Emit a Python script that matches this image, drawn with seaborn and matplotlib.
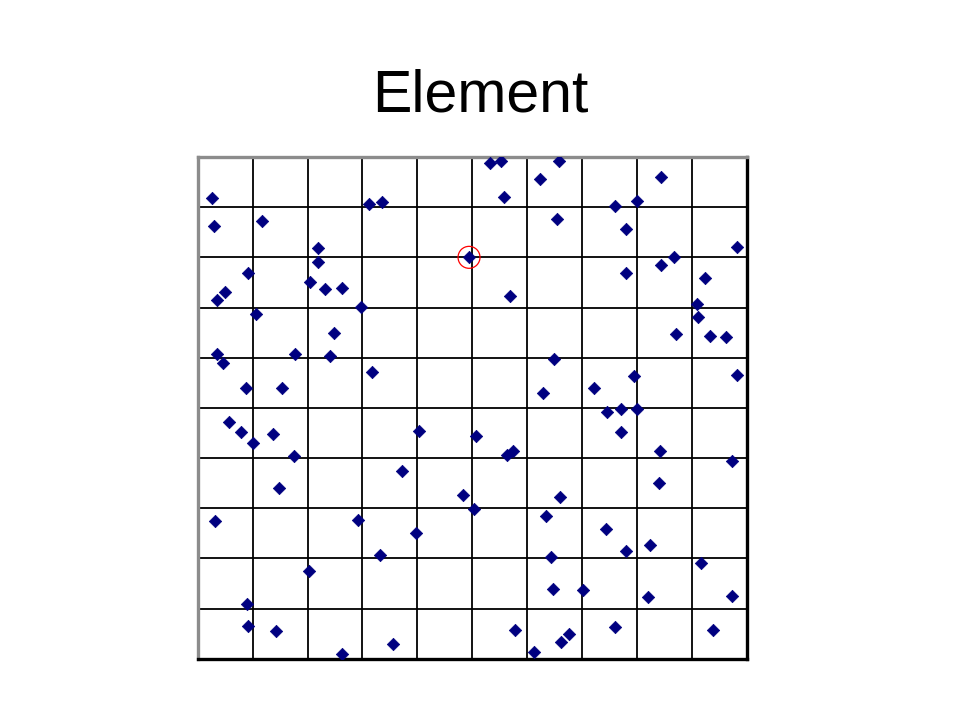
import numpy as np
import pandas as pd
import matplotlib
matplotlib.use("Agg")
import matplotlib.pyplot as plt
import seaborn as sns

# point positions (axis runs 0..10 both ways)
x_vals = [0.26, 0.29, 1.17, 3.11, 3.35, 5.32, 5.52, 5.57, 6.23, 6.58,
          8.43, 6.54, 7.60, 8.00, 7.80, 9.82, 2.19, 2.19, 0.91, 0.49,
          0.35, 2.04, 2.31, 2.62, 4.94, 5.68, 8.43, 8.67, 7.80, 9.23,
          9.09, 9.11, 8.71, 9.33, 9.62, 1.06, 2.97, 2.48, 0.35, 0.46,
          1.77, 2.40, 3.17, 6.48, 0.87, 1.53, 6.28, 7.21, 7.94, 9.82,
          7.45, 7.70, 8.00, 7.70, 0.56, 0.78, 1.00, 1.37, 1.75, 4.03,
          5.06, 5.63, 5.74, 8.42, 9.73, 3.72, 1.48, 4.83, 5.03, 6.59,
          8.40, 0.31, 2.91, 3.97, 6.34, 7.43, 3.32, 6.43, 7.80, 8.23,
          9.16, 2.02, 6.47, 7.01, 8.20, 9.73, 0.89, 0.91, 1.42, 2.62,
          3.55, 5.77, 6.12, 6.61, 6.76, 7.60, 9.38]
y_vals = [9.18, 8.62, 8.72, 9.06, 9.11, 9.88, 9.92, 9.20, 9.56, 9.92,
          9.60, 8.76, 9.02, 9.12, 8.56, 8.20, 8.18, 7.90, 7.68, 7.31,
          7.15, 7.50, 7.37, 7.39, 8.00, 7.23, 7.84, 8.00, 7.68, 7.58,
          7.07, 6.81, 6.47, 6.43, 6.41, 6.87, 7.01, 6.49, 6.07, 5.89,
          6.07, 6.03, 5.71, 5.97, 5.39, 5.39, 5.29, 5.39, 5.63, 5.65,
          4.91, 4.97, 4.97, 4.51, 4.71, 4.51, 4.31, 4.47, 4.05, 4.53,
          4.43, 4.07, 4.15, 4.15, 3.95, 3.75, 3.41, 3.27, 2.99, 3.23,
          3.51, 2.75, 2.77, 2.51, 2.85, 2.59, 2.06, 2.02, 2.14, 2.26,
          1.90, 1.74, 1.40, 1.38, 1.24, 1.26, 1.10, 0.66, 0.56, 0.10,
          0.30, 0.58, 0.14, 0.34, 0.50, 0.64, 0.58]
highlight_x = [4.94]
highlight_y = [8.00]

df = pd.DataFrame({"x": x_vals, "y": y_vals})

sns.set_style("white")
plt.rcParams["font.family"] = ["Liberation Sans", "DejaVu Sans"]

fig = plt.figure(figsize=(9.6, 7.2), dpi=100)
ax = fig.add_axes([0.206, 0.085, 0.572, 0.697])

sns.scatterplot(data=df, x="x", y="y", marker="D", s=40, color="#000080",
                edgecolor="#000080", linewidth=0.5, ax=ax, zorder=3)
ax.scatter(highlight_x, highlight_y, s=250, facecolors="none",
           edgecolors="red", linewidths=0.9, zorder=4)

ax.set_xlim(0, 10)
ax.set_ylim(0, 10)
ax.set_xticks(np.arange(0, 11, 1))
ax.set_yticks(np.arange(0, 11, 1))
ax.grid(True, color="black", linewidth=1.3)
ax.set_axisbelow(True)
ax.tick_params(length=0, labelbottom=False, labelleft=False)
ax.set_xlabel("")
ax.set_ylabel("")

for side in ["top", "left"]:
    ax.spines[side].set_color("#8c8c8c")
    ax.spines[side].set_linewidth(2.4)
for side in ["bottom", "right"]:
    ax.spines[side].set_color("black")
    ax.spines[side].set_linewidth(2.4)
for s in ax.spines.values():
    s.set_visible(True)

fig.text(0.5, 0.866, "Element", ha="center", va="center", fontsize=42.5,
         color="black")

fig.savefig("out.png", dpi=100)
